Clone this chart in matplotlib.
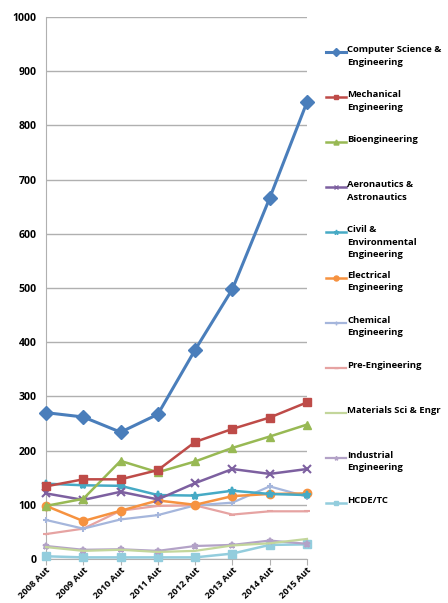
import numpy as np
import matplotlib
matplotlib.use('Agg')
import matplotlib.pyplot as plt
from matplotlib.lines import Line2D

plt.rcParams['font.family'] = ['Open Sans', 'DejaVu Sans']

# data
years = ['2008 Aut', '2009 Aut', '2010 Aut', '2011 Aut', '2012 Aut', '2013 Aut', '2014 Aut', '2015 Aut']
cs = [270, 262, 234, 267, 386, 498, 666, 843]
mech = [134, 147, 147, 164, 216, 240, 261, 289]
bio = [98, 111, 181, 160, 180, 205, 226, 248]
aero = [121, 109, 124, 110, 140, 166, 157, 166]
civil = [139, 136, 135, 118, 117, 126, 120, 118]
elec = [98, 70, 89, 108, 100, 116, 120, 121]
chem = [72, 56, 73, 81, 99, 104, 134, 115]
pre_eng = [46, 56, 89, 98, 99, 82, 88, 88]
materials = [22, 15, 17, 13, 15, 25, 29, 37]
industrial = [24, 17, 18, 15, 24, 26, 34, 28]
hcde = [5, 3, 3, 3, 3, 10, 26, 27]

labels = ['Computer Science &\nEngineering', 'Mechanical\nEngineering', 'Bioengineering',
          'Aeronautics &\nAstronautics', 'Civil &\nEnvironmental\nEngineering', 'Electrical\nEngineering',
          'Chemical\nEngineering', 'Pre-Engineering', 'Materials Sci & Engr',
          'Industrial\nEngineering', 'HCDE/TC']
series = [cs, mech, bio, aero, civil, elec, chem, pre_eng, materials, industrial, hcde]

# styles: color, marker, marker size, line width
styles = [
    ('#4a7ebb', 'D', 7, 2.2),
    ('#be4b48', 's', 6, 1.8),
    ('#98b954', '^', 6, 1.8),
    ('#7d60a0', 'x', 6, 1.8),
    ('#46aac5', '*', 6, 1.8),
    ('#f69240', 'o', 6, 1.8),
    ('#a5b6dc', '+', 5, 1.6),
    ('#e6a3a2', '_', 5, 1.6),
    ('#c3d69b', '', 0, 1.6),
    ('#b3a2c7', '*', 5, 1.6),
    ('#93cddd', 's', 6, 1.8),
]

fig = plt.figure(figsize=(4.48, 6.03), dpi=100)
ax = fig.add_axes([46 / 448, 1 - 559 / 603, (307 - 46) / 448, (559 - 17) / 603])

x = np.arange(len(years))
# draw lighter series first so the main ones sit on top
for vals, (c, m, ms, lw) in reversed(list(zip(series, styles))):
    ax.plot(x, vals, color=c, marker=m if m else None, markersize=ms, linewidth=lw,
            markeredgewidth=1.5 if m in ('x', '+', '_', '*') else 1, clip_on=False, zorder=3)

ax.set_xlim(0, len(years) - 1)
ax.set_ylim(0, 1000)
ax.set_yticks(np.arange(0, 1001, 100))
ax.set_xticks(x)
ax.set_xticklabels(years, rotation=45, ha='right', rotation_mode='anchor', fontweight='bold', fontsize=6.7)
for lab in ax.get_yticklabels():
    lab.set_fontweight('bold')
    lab.set_fontsize(7.6)
ax.yaxis.grid(True, color='#b0b0b0', linewidth=1)
ax.set_axisbelow(True)
for s in ['top', 'right']:
    ax.spines[s].set_visible(False)
ax.spines['left'].set_color('#b0b0b0')
ax.spines['bottom'].set_color('#b0b0b0')
ax.tick_params(axis='y', length=0, pad=7)
ax.tick_params(axis='x', length=4, color='#b0b0b0', pad=1)

# legend drawn by hand to keep Excel-style even spacing
y0 = 1 - 52 / 603
step = 45.1 / 603
for i, (lab, (c, m, ms, lw)) in enumerate(zip(labels, styles)):
    yy = y0 - i * step
    fig.add_artist(Line2D([326 / 448, 346 / 448], [yy, yy], color=c, linewidth=lw))
    if m:
        fig.add_artist(Line2D([336 / 448], [yy], color=c, marker=m, markersize=ms * 0.6,
                              markeredgewidth=1))
    fig.text(347 / 448, yy + 7 / 603, lab, fontsize=6.8, fontweight='bold', va='top', ha='left',
             linespacing=1.5)

fig.savefig('out.png', dpi=100)
